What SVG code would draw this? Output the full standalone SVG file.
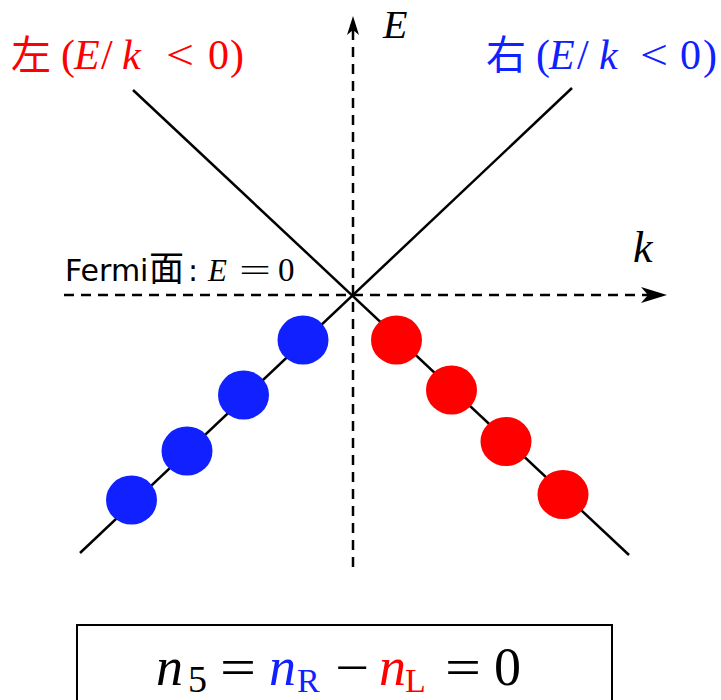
<svg xmlns="http://www.w3.org/2000/svg" width="721" height="700" viewBox="0 0 721 700">
<style>
.ln{stroke:#000;stroke-width:2.5;fill:none}
.ax{stroke:#000;stroke-width:2.5;fill:none;stroke-dasharray:10,7}
.m{font-family:"Liberation Serif","DejaVu Serif",serif}
.i{font-style:italic}
.cjk{font-family:"Noto Sans CJK SC","DejaVu Sans",sans-serif}
.blue{fill:#1020ff}
.red{fill:#ff0000}
</style>
<rect width="721" height="700" fill="#fff"/>
<g id="connectors">
<line class="ax" x1="353" y1="567" x2="353" y2="28"/>
<path d="M353,16 L359,35 L353,30 L347,35 Z" fill="#000"/>
<line class="ax" x1="64" y1="295" x2="655" y2="295"/>
<path d="M667,295 L641,287 L648,295 L641,303 Z" fill="#000"/>
<line class="ln" x1="133" y1="90" x2="629" y2="555"/>
<line class="ln" x1="80" y1="553" x2="572" y2="88"/>
</g>
<g id="blue-dots" class="blue">
<ellipse cx="303" cy="340" rx="25.5" ry="24.5"/>
<ellipse cx="243.5" cy="395" rx="25.5" ry="24.5"/>
<ellipse cx="187" cy="451" rx="25.5" ry="24.5"/>
<ellipse cx="131.5" cy="500" rx="25.5" ry="24.5"/>
</g>
<g id="red-dots" class="red">
<ellipse cx="396.5" cy="340" rx="25.5" ry="24.5"/>
<ellipse cx="451.5" cy="390" rx="25.5" ry="24.5"/>
<ellipse cx="506" cy="441.5" rx="25.5" ry="24.5"/>
<ellipse cx="563" cy="494.5" rx="25.5" ry="24.5"/>
</g>
<g id="label-left" class="red">
<text x="11" y="69" class="cjk" font-size="40">左</text>
<text x="61" y="69" class="m" font-size="42">(</text>
<text x="74" y="69" class="m i" font-size="42">E</text>
<text x="101" y="69" class="m" font-size="42">/</text>
<text x="122" y="69" class="m i" font-size="42">k</text>
<text x="166" y="69" class="m" font-size="42" textLength="28" lengthAdjust="spacingAndGlyphs">&lt;</text>
<text x="208" y="69" class="m" font-size="42">0</text>
<text x="230" y="69" class="m" font-size="42">)</text>
</g>
<g id="label-right" class="blue">
<text x="486" y="69" class="cjk" font-size="40">右</text>
<text x="536" y="69" class="m" font-size="42">(</text>
<text x="549" y="69" class="m i" font-size="42">E</text>
<text x="577" y="69" class="m" font-size="42">/</text>
<text x="599" y="69" class="m i" font-size="42">k</text>
<text x="640" y="69" class="m" font-size="42" textLength="28" lengthAdjust="spacingAndGlyphs">&lt;</text>
<text x="680" y="69" class="m" font-size="42">0</text>
<text x="703" y="69" class="m" font-size="42">)</text>
</g>
<g id="axis-E"><text x="383" y="38" class="m i" font-size="40">E</text></g>
<g id="axis-k"><text x="633" y="262" class="m i" font-size="44">k</text></g>
<g id="fermi">
<text x="65" y="281" font-family="DejaVu Sans,sans-serif" font-size="30">Fermi</text>
<text x="149" y="281" class="cjk" font-size="35">面</text>
<text x="188" y="281" font-family="DejaVu Sans,sans-serif" font-size="30">:</text>
<text x="208" y="281" class="m i" font-size="31">E</text>
<text x="239" y="281" class="m" font-size="32" textLength="32" lengthAdjust="spacingAndGlyphs">=</text>
<text x="278" y="281" class="m" font-size="33">0</text>
</g>
<g id="formula">
<rect x="77" y="625" width="535" height="100" fill="none" stroke="#000" stroke-width="2"/>
<text x="156" y="685" class="m i" font-size="54">n</text>
<text x="188" y="692" class="m" font-size="38">5</text>
<text x="220" y="685" class="m" font-size="52" textLength="36" lengthAdjust="spacingAndGlyphs">=</text>
<text x="269" y="685" class="m i blue" font-size="54">n</text>
<text x="297" y="692" class="m blue" font-size="34">R</text>
<text x="335" y="685" class="m" font-size="52" textLength="34" lengthAdjust="spacingAndGlyphs">−</text>
<text x="379" y="685" class="m i red" font-size="54">n</text>
<text x="405" y="692" class="m red" font-size="34">L</text>
<text x="445" y="685" class="m" font-size="52" textLength="36" lengthAdjust="spacingAndGlyphs">=</text>
<text x="494" y="685" class="m" font-size="54">0</text>
</g>
</svg>
